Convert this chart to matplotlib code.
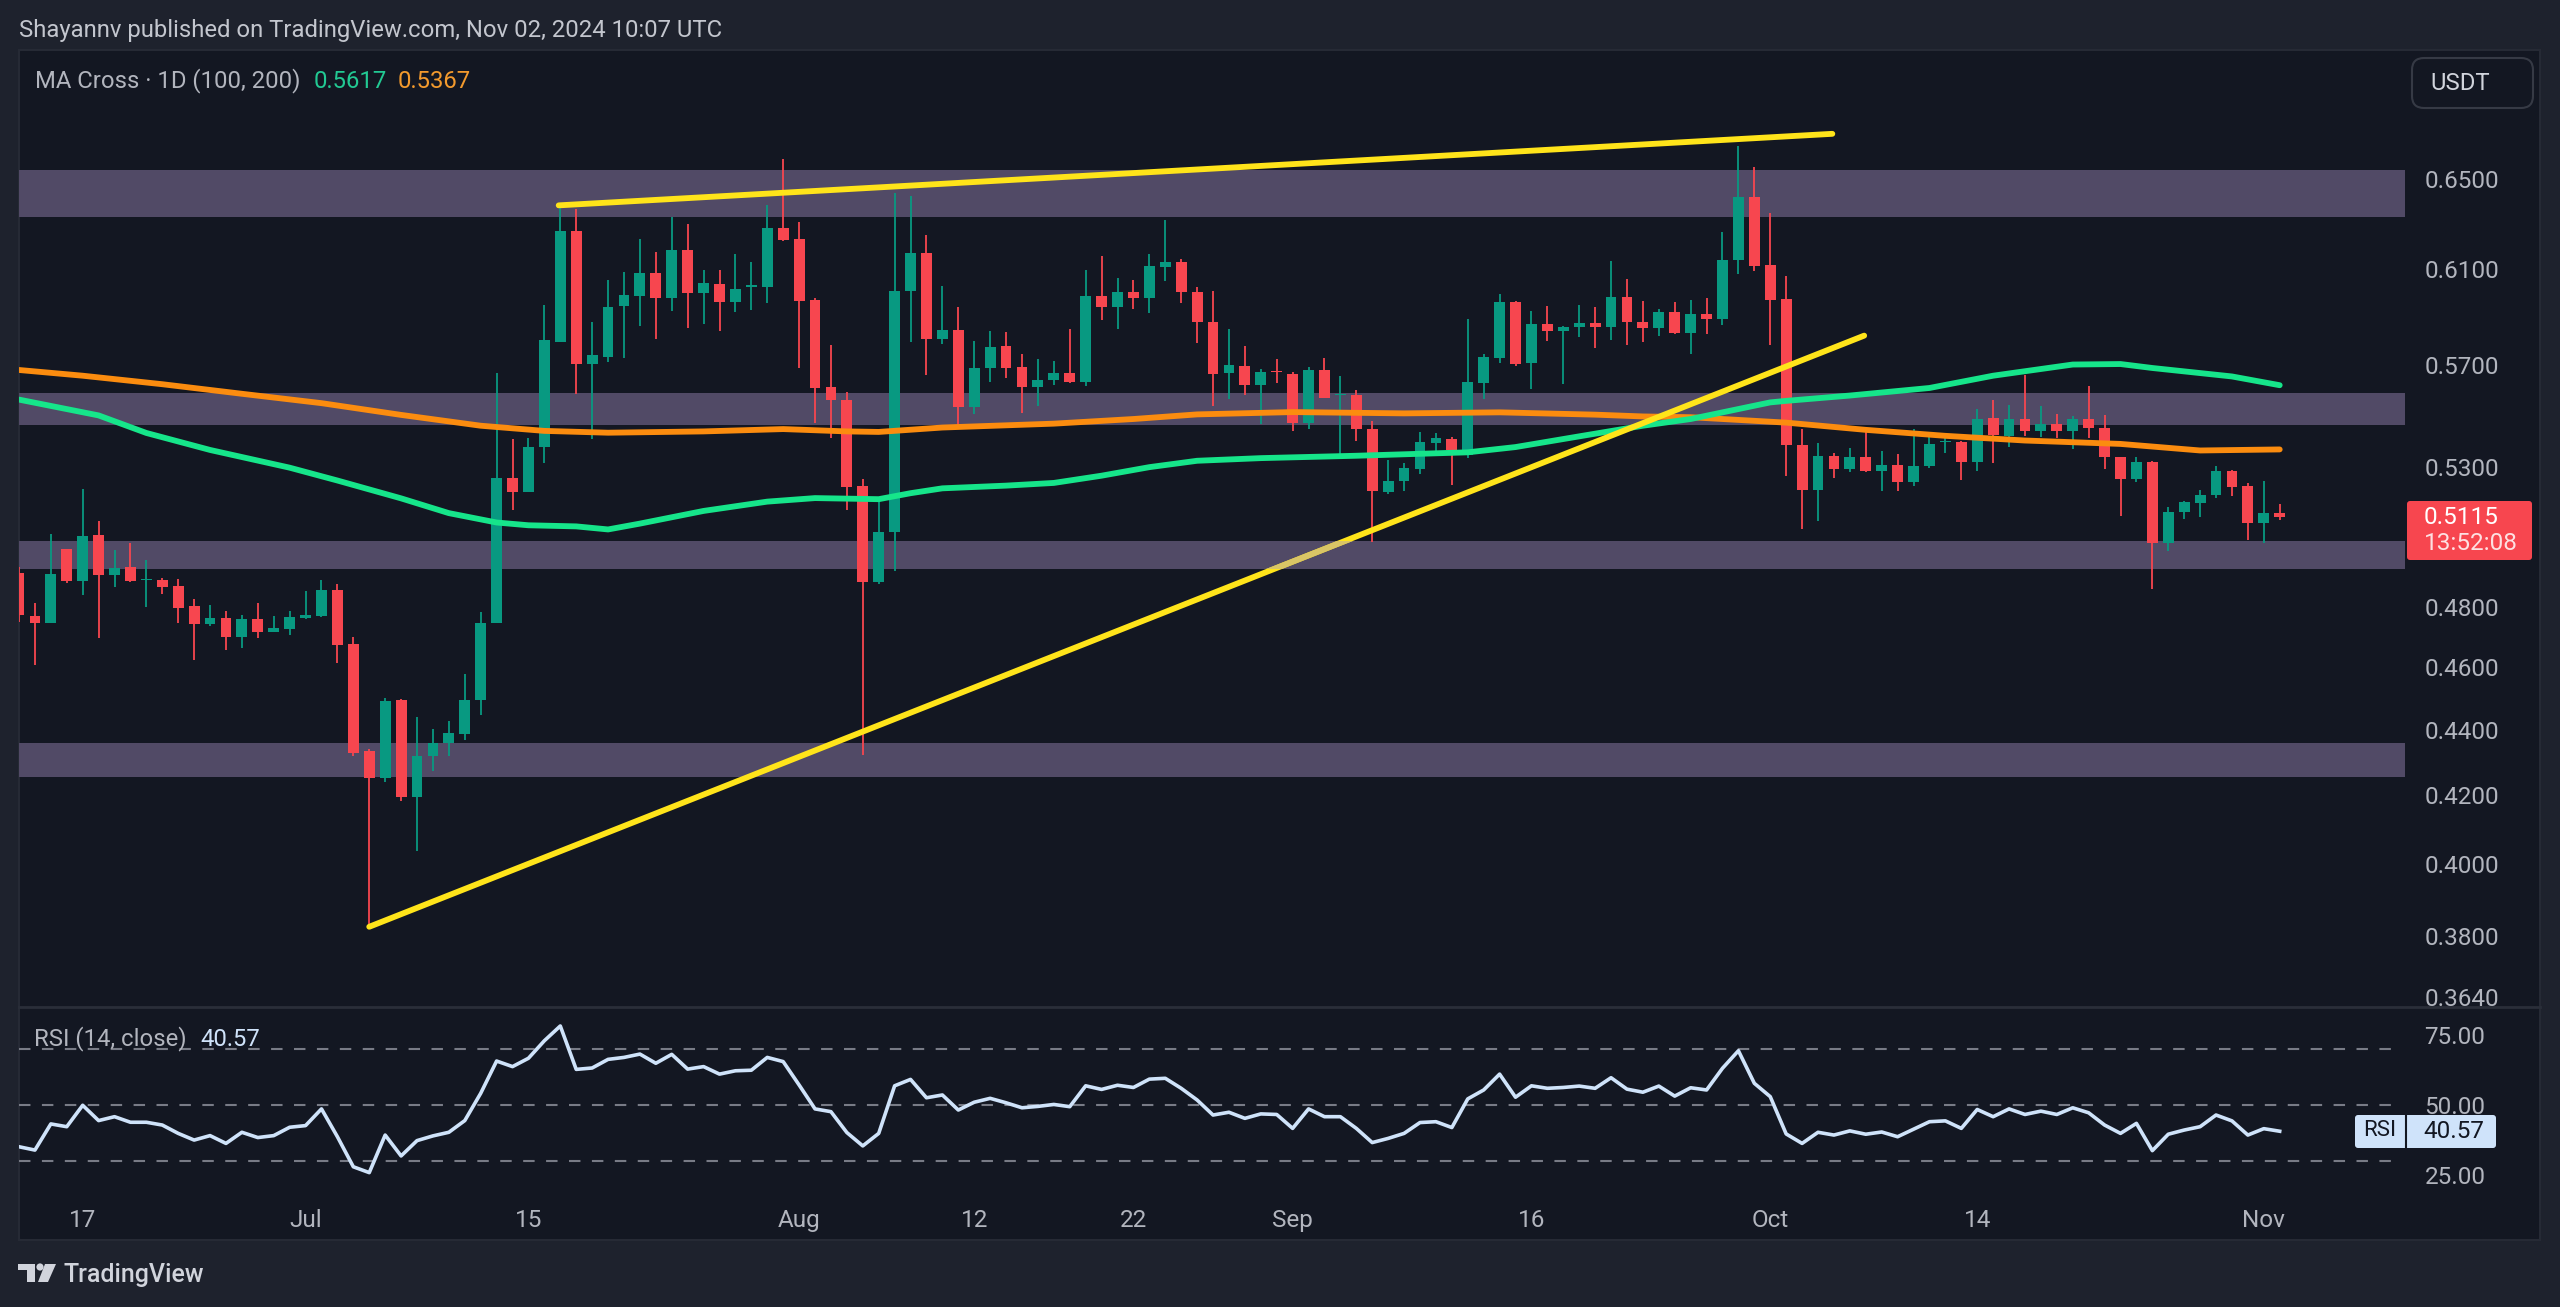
"""XRP/USDT daily chart with MA cross and RSI, TradingView dark look."""
import matplotlib
matplotlib.use("Agg")
import matplotlib.pyplot as plt
from matplotlib.patches import FancyBboxPatch, Polygon, Circle, Rectangle

W, H = 2560, 1307

OUTER = "#1e222d"
PANEL = "#131722"
BAND = "#514a66"
GREEN = "#089981"
RED = "#f7464f"
MA100_COL = "#16e58a"
MA200_COL = "#fb8c0f"
YELLOW = "#ffe41a"
RSI_COL = "#cfe3fa"
TEXT = "#b2b5be"

# candles, Jun 13 to Nov 2 2024
opens = [
    .4918, .4770, .4745, .5000, .4889, .5052, .4911, .4936, .4891, .4894, .4871, .4804,
    .4742, .4762, .4699, .4758, .4716, .4726, .4762, .4770, .4858, .4675, .4333, .4253,
    .4493, .4195, .4317, .4359, .4387, .4493, .4745, .5258, .5209, .5375, .5790, .6268,
    .5701, .5732, .5941, .5985, .6084, .5977, .6181, .5995, .6037, .5957, .6023, .6023,
    .6280, .6232, .5967, .5610, .5559, .5228, .4887, .5062, .6003, .6168, .5805, .5843,
    .5529, .5684, .5774, .5690, .5609, .5638, .5666, .5630, .5985, .5936, .6002, .5975,
    .6107, .6129, .6002, .5876, .5667, .5693, .5618, .5674, .5663, .5470, .5677, .5577,
    .5579, .5446, .5208, .5249, .5294, .5393, .5406, .5346, .5626, .5726, .5960, .5706,
    .5866, .5837, .5852, .5870, .5852, .5978, .5876, .5848, .5915, .5828, .5908, .5887,
    .6137, .6418, .6116, .5971, .5384, .5216, .5343, .5293, .5339, .5286, .5309, .5243,
    .5304, .5396, .5396, .5320, .5486, .5417, .5484, .5439, .5464, .5438, .5484, .5450,
    .5338, .5257, .5320, .5021, .5133, .5166, .5195, .5285, .5229, .5094, .5131,
]
highs = [
    .4939, .4815, .5054, .5000, .5218, .5100, .4998, .5023, .4964, .4901, .4896, .4827,
    .4806, .4786, .4773, .4815, .4770, .4786, .4855, .4894, .4879, .4699, .4339, .4500,
    .4497, .4439, .4402, .4427, .4577, .4783, .5665, .5406, .5411, .5947, .6377, .6366,
    .5873, .6051, .6086, .6232, .6175, .6329, .6295, .6096, .6096, .6164, .6129, .6383,
    .6592, .6308, .5975, .5781, .5589, .5255, .5173, .6436, .6425, .6247, .6027, .5937,
    .5797, .5837, .5833, .5743, .5724, .5713, .5846, .6096, .6154, .6059, .6050, .6164,
    .6316, .6144, .6020, .6006, .5846, .5774, .5682, .5724, .5668, .5690, .5726, .5652,
    .5596, .5475, .5328, .5317, .5432, .5429, .5414, .5887, .5744, .5993, .5961, .5919,
    .5940, .5856, .5947, .5936, .6132, .6055, .5963, .5930, .5958, .5967, .5977, .6261,
    .6656, .6555, .6346, .6071, .5445, .5391, .5353, .5374, .5438, .5361, .5349, .5447,
    .5416, .5410, .5399, .5523, .5557, .5537, .5659, .5536, .5503, .5494, .5612, .5498,
    .5340, .5338, .5324, .5154, .5173, .5216, .5305, .5290, .5240, .5248, .5162,
]
lows = [
    .4750, .4605, .4745, .4881, .4840, .4694, .4868, .4886, .4799, .4845, .4745, .4623,
    .4734, .4655, .4661, .4694, .4716, .4704, .4758, .4767, .4614, .4317, .3826, .4240,
    .4184, .4038, .4273, .4317, .4369, .4447, .4745, .5140, .5209, .5316, .5790, .5582,
    .5406, .5711, .5726, .5859, .5804, .5919, .5849, .5865, .5836, .5917, .5925, .5955,
    .6221, .5684, .5468, .5410, .5140, .4321, .4879, .4923, .5790, .5659, .5783, .5461,
    .5503, .5630, .5644, .5507, .5536, .5616, .5627, .5612, .5881, .5845, .5929, .5912,
    .6046, .5954, .5788, .5533, .5562, .5579, .5464, .5626, .5436, .5445, .5566, .5331,
    .5401, .5027, .5199, .5210, .5274, .5346, .5233, .5336, .5562, .5706, .5693, .5602,
    .5794, .5623, .5811, .5767, .5801, .5781, .5790, .5818, .5826, .5744, .5826, .5860,
    .6078, .6092, .5781, .5268, .5072, .5102, .5259, .5281, .5283, .5211, .5211, .5231,
    .5296, .5353, .5253, .5286, .5317, .5378, .5419, .5414, .5410, .5368, .5410, .5293,
    .5118, .5244, .4861, .4993, .5108, .5115, .5187, .5194, .5034, .5024, .5106,
]
closes = [
    .4771, .4745, .4914, .4889, .5049, .4911, .4934, .4889, .4896, .4868, .4797, .4742,
    .4764, .4699, .4758, .4716, .4728, .4765, .4773, .4858, .4672, .4329, .4253, .4491,
    .4195, .4317, .4358, .4390, .4494, .4745, .5258, .5209, .5375, .5798, .6268, .5701,
    .5737, .5939, .5987, .6084, .5977, .6181, .5995, .6039, .5957, .6014, .6029, .6280,
    .6227, .5963, .5606, .5559, .5226, .4887, .5063, .6006, .6168, .5805, .5842, .5529,
    .5686, .5773, .5687, .5609, .5639, .5666, .5630, .5985, .5937, .6002, .5975, .6113,
    .6128, .5999, .5873, .5663, .5697, .5618, .5670, .5668, .5470, .5679, .5568, .5581,
    .5445, .5210, .5249, .5295, .5396, .5410, .5365, .5628, .5732, .5960, .5703, .5867,
    .5837, .5855, .5871, .5852, .5979, .5873, .5848, .5915, .5828, .5906, .5888, .6139,
    .6418, .6113, .5968, .5383, .5216, .5343, .5293, .5339, .5285, .5309, .5243, .5306,
    .5388, .5399, .5321, .5484, .5423, .5484, .5438, .5463, .5438, .5484, .5449, .5339,
    .5257, .5320, .5021, .5135, .5169, .5197, .5287, .5227, .5095, .5130, .5115,
]

# moving averages, read at a few days and joined
ma200_days = [0, 4, 9, 14, 19, 24, 29, 33, 37, 43, 48, 52, 54, 58, 65, 70, 74, 80, 87, 93,
              99, 102, 105, 111, 116, 121, 126, 132, 137, 142]
ma200_vals = [.5678, .5655, .5621, .5583, .5546, .5500, .5458, .5438, .5431, .5436, .5445,
              .5436, .5434, .5451, .5466, .5484, .5502, .5511, .5506, .5510, .5501, .5494,
              .5491, .5470, .5442, .5419, .5401, .5388, .5363, .5367]
ma100_days = [0, 5, 8, 12, 17, 20, 24, 27, 30, 32, 35, 37, 39, 43, 47, 50, 54, 56, 58, 62,
              65, 68, 71, 74, 78, 84, 91, 94, 98, 102, 105, 110, 111, 115, 120, 124, 129,
              132, 134, 139, 142]
ma100_vals = [.5560, .5498, .5430, .5365, .5298, .5250, .5184, .5130, .5096, .5086, .5082,
              .5071, .5092, .5138, .5172, .5185, .5181, .5203, .5221, .5231, .5241, .5268,
              .5300, .5324, .5334, .5343, .5356, .5376, .5417, .5458, .5484, .5549, .5555,
              .5576, .5606, .5655, .5700, .5702, .5686, .5652, .5617]

rsi_vals = [
    35.0, 33.8, 43.2, 42.2, 49.9, 44.4, 45.8, 43.8, 43.8, 42.8, 39.8, 37.4, 39.0, 36.2, 40.2,
    38.3, 39.0, 42.0, 42.6, 48.6, 38.6, 27.8, 25.7, 39.2, 31.7, 37.2, 38.9, 40.2, 44.4, 54.2,
    65.8, 63.8, 66.8, 73.1, 78.4, 62.8, 63.3, 66.4, 67.1, 68.3, 65.0, 68.2, 62.9, 63.8, 61.1,
    62.3, 62.5, 67.1, 65.6, 57.2, 48.6, 47.6, 40.1, 35.3, 39.8, 56.9, 59.2, 52.6, 53.6, 48.2,
    51.0, 52.4, 50.8, 49.0, 49.5, 50.2, 49.4, 56.9, 55.6, 57.1, 56.3, 59.3, 59.6, 56.0, 51.8,
    46.4, 47.4, 45.2, 46.8, 46.6, 41.6, 48.6, 45.8, 45.8, 41.6, 36.5, 38.0, 39.8, 43.7, 44.0,
    41.9, 52.2, 55.4, 61.1, 52.8, 56.9, 56.0, 56.3, 56.8, 56.0, 59.8, 55.7, 54.6, 56.8, 53.2,
    56.2, 55.4, 63.2, 69.5, 57.8, 53.0, 39.6, 36.2, 40.2, 39.2, 40.7, 39.5, 40.3, 38.6, 41.3,
    44.0, 44.3, 41.6, 48.4, 45.8, 48.6, 46.6, 47.8, 46.6, 49.0, 47.2, 42.8, 39.8, 43.4, 33.6,
    39.5, 41.0, 42.2, 46.4, 44.3, 39.2, 41.5, 40.57,
]

# horizontal zones (low, high)
zones = [(.6329, .6541), (.5461, .5585), (.4930, .5029), (.4255, .4360)]

# drawn trendlines: day and price at both ends
top_line_days = [33.9, 113.9]
top_line_prices = [.6381, .6713]
rise_line_days = [22, 115.9]
rise_line_prices = [.3826, .5818]

price_ticks = [.65, .61, .57, .53, .48, .46, .44, .42, .40, .38, .364]
rsi_ticks = [75, 50, 25]
rsi_levels = [70, 50, 30]
date_tick_days = [4, 18, 32, 49, 60, 70, 80, 95, 110, 123, 141]
date_tick_labels = ["17", "Jul", "15", "Aug", "12", "22", "Sep", "16", "Oct", "14", "Nov"]

plt.rcParams["font.family"] = ["Roboto", "DejaVu Sans"]

fig = plt.figure(figsize=(W / 100, H / 100), dpi=100, facecolor=OUTER)


def axes_px(x0, y0, x1, y1):
    return fig.add_axes([x0 / W, 1 - y1 / H, (x1 - x0) / W, (y1 - y0) / H])


# panel goes behind everything
bg = axes_px(0, 0, W, H)
bg.set_xlim(0, W)
bg.set_ylim(H, 0)
bg.axis("off")
bg.add_patch(Rectangle((19, 50), 2521, 1190, fc=PANEL, ec="#262a35", lw=1.5))
bg.plot([19, 2540], [1007, 1007], color="#2a2e39", lw=2)

XMAX = 149.87   # right edge of the plot area, in days

ax = axes_px(19, 51, 2405, 1006)
ax.patch.set_alpha(0)
ax.set_yscale("log")
ax.set_xlim(0, XMAX)
ax.set_ylim(.3617, .7119)

for lo, hi in zones:
    ax.axhspan(lo, hi, color=BAND, lw=0, zorder=1)

for i, (o, h, l, c) in enumerate(zip(opens, highs, lows, closes)):
    col = GREEN if c >= o else RED
    ax.vlines(i, l, h, color=col, lw=1.3, zorder=2)
    ax.bar(i, abs(c - o), bottom=min(o, c), width=0.68, color=col, lw=0, zorder=2)

ax.plot(ma200_days, ma200_vals, color=MA200_COL, lw=4.2, zorder=3, solid_capstyle="round")
ax.plot(ma100_days, ma100_vals, color=MA100_COL, lw=4.2, zorder=3, solid_capstyle="round")

ax.plot(top_line_days, top_line_prices, color=YELLOW, lw=4.2, zorder=4, solid_capstyle="round")
ax.plot(rise_line_days, rise_line_prices, color=YELLOW, lw=4.2, zorder=4, solid_capstyle="round")
# the third zone lies over the rising line, so it shows pale there
pale, = ax.plot(rise_line_days, rise_line_prices, color="#d9c566", lw=4.2, zorder=4.1)
pale.set_clip_path(Rectangle((0, zones[2][0]), XMAX, zones[2][1] - zones[2][0],
                             transform=ax.transData))

ax.set_xticks([])
ax.yaxis.tick_right()
ax.set_yticks(price_ticks)
ax.set_yticklabels([f"{p:.4f}" for p in price_ticks])
ax.minorticks_off()
ax.tick_params(axis="y", length=0, pad=14, labelsize=17.5, labelcolor=TEXT)
for s in ax.spines.values():
    s.set_visible(False)

rsi = axes_px(19, 1009, 2405, 1195)
rsi.patch.set_alpha(0)
rsi.set_xlim(0, XMAX)
rsi.set_ylim(17.66, 84.5)
for lev in rsi_levels:
    rsi.plot([0, 149.4], [lev, lev], color="#787b86", lw=1.5, ls=(0, (5.5, 5.5)), zorder=1)
rsi.plot(range(len(rsi_vals)), rsi_vals, color=RSI_COL, lw=2.6, zorder=2)
rsi.yaxis.tick_right()
rsi.set_yticks(rsi_ticks)
rsi.set_yticklabels([f"{v:.2f}" for v in rsi_ticks])
rsi.set_xticks(date_tick_days)
rsi.set_xticklabels(date_tick_labels)
rsi.tick_params(axis="y", length=0, pad=14, labelsize=17.5, labelcolor=TEXT)
rsi.tick_params(axis="x", length=0, pad=10, labelsize=17.5, labelcolor=TEXT)
for s in rsi.spines.values():
    s.set_visible(False)

# chrome on top, in pixel coordinates
top = axes_px(0, 0, W, H)
top.patch.set_alpha(0)
top.set_xlim(0, W)
top.set_ylim(H, 0)
top.axis("off")


def label(x, y, s, color=TEXT, size=17.2, **kw):
    top.text(x, y, s, color=color, fontsize=size, va="center", **kw)


label(19, 30, "Shayannv published on TradingView.com, Nov 02, 2024 10:07 UTC", color="#c3c6ce")
label(35, 81, "MA Cross · 1D (100, 200)")
label(314, 81, "0.5617", color="#22c993")
label(398, 81, "0.5367", color="#f39a2d")
label(34, 1039, "RSI (14, close)")
label(200, 1039, "40.57", color=RSI_COL)

top.add_patch(FancyBboxPatch((2412, 58), 121, 50, boxstyle="round,pad=0,rounding_size=12",
                             fc=PANEL, ec="#363a45", lw=1.5))
label(2430, 83, "USDT", color="#d1d4dc")

# last price tag
top.add_patch(FancyBboxPatch((2407, 501), 125, 59, boxstyle="round,pad=0,rounding_size=3",
                             fc=RED, ec="none"))
label(2424, 518, "0.5115", color="white", size=17.5)
label(2424, 543, "13:52:08", color="#fde0e2", size=17.5)

# RSI tag
top.add_patch(FancyBboxPatch((2355, 1115), 141, 33, boxstyle="round,pad=0,rounding_size=3",
                             fc="#cfe3fa", ec="none"))
top.plot([2406, 2406], [1115, 1148], color=PANEL, lw=1.5)
label(2380, 1131, "RSI", color=PANEL, size=16, ha="center")
label(2454, 1131, "40.57", color=PANEL, size=17.5, ha="center")

# TradingView logo
LOGO = "#d1d4dc"
top.add_patch(Polygon([(18, 1264), (35, 1264), (35, 1282), (27, 1282), (27, 1270), (18, 1270)],
                      fc=LOGO, ec="none"))
top.add_patch(Circle((40, 1267), 3.6, fc=LOGO, ec="none"))
top.add_patch(Polygon([(45, 1264), (56, 1264), (48, 1282), (38, 1282)], fc=LOGO, ec="none"))
label(64, 1275, "TradingView", color=LOGO, size=18, fontweight="medium")

fig.savefig("out.png", dpi=100, facecolor=OUTER)
